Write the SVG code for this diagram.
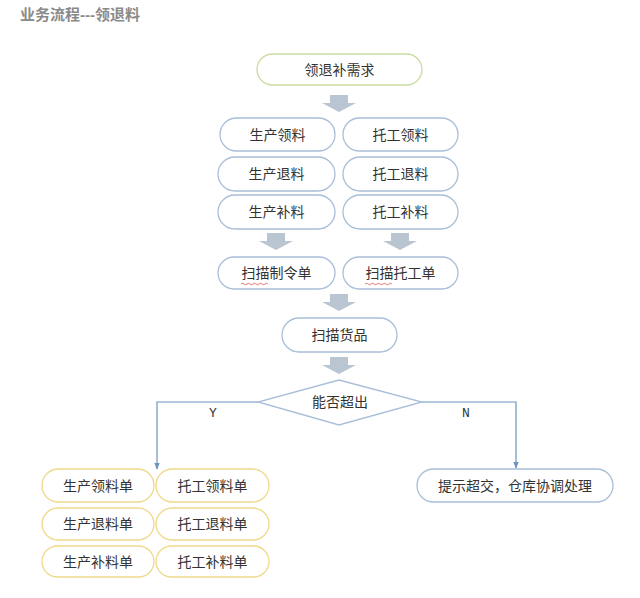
<svg xmlns="http://www.w3.org/2000/svg" width="640" height="598" viewBox="0 0 640 598">
<defs>
<style>
text{font-family:"Liberation Sans","Noto Sans CJK SC",sans-serif;font-size:14px;fill:#333;text-anchor:middle;dominant-baseline:central}
text.title{font-size:15px;font-weight:bold;fill:#8a8a8a;text-anchor:start}
.g{fill:#fff;stroke:#c9dca0;stroke-width:1.3}
.b{fill:#fff;stroke:#a9bfd9;stroke-width:1.3}
.y{fill:#fff;stroke:#efd98a;stroke-width:1.3}
.blk{fill:#b9c5d1}
.ln{fill:none;stroke:#6d93c2;stroke-width:1.2}
text.lbl{font-family:"Liberation Mono",monospace;font-size:13px}
.sq{fill:none;stroke:#e05050;stroke-width:0.8}
</style>
<marker id="ah" viewBox="0 0 10 10" refX="9" refY="5" markerWidth="7" markerHeight="7" orient="auto" markerUnits="userSpaceOnUse">
<path d="M0,1 L10,5 L0,9 z" fill="#6d93c2"/>
</marker>
<path id="bar" d="M-9,0 H9 V8 H17 L0,17 L-17,8 H-9 Z"/>
</defs>
<rect width="640" height="598" fill="#fff"/>
<text class="title" x="20" y="14">业务流程---领退料</text>

<g id="connectors">
<use href="#bar" class="blk" x="339" y="95"/>
<use href="#bar" class="blk" x="276" y="233"/>
<use href="#bar" class="blk" x="400" y="233"/>
<use href="#bar" class="blk" x="339" y="294"/>
<use href="#bar" class="blk" x="339" y="357"/>
<path class="ln" d="M258,402 H157 V469" marker-end="url(#ah)"/>
<path class="ln" d="M422,402 H516 V468" marker-end="url(#ah)"/>
<text class="lbl" x="213" y="413">Y</text>
<text class="lbl" x="466" y="413">N</text>
</g>

<g id="n-need"><rect class="g" x="257" y="54" width="165" height="31" rx="15.5"/><text x="339.5" y="70">领退补需求</text></g>

<g id="n-scll"><rect class="b" x="220" y="118" width="115" height="33" rx="16.5"/><text x="277.5" y="135">生产领料</text></g>
<g id="n-tgll"><rect class="b" x="343" y="118" width="115" height="33" rx="16.5"/><text x="400.5" y="135">托工领料</text></g>
<g id="n-sctl"><rect class="b" x="218" y="157" width="117" height="34" rx="17"/><text x="276.5" y="174">生产退料</text></g>
<g id="n-tgtl"><rect class="b" x="343" y="157" width="115" height="34" rx="17"/><text x="400.5" y="174">托工退料</text></g>
<g id="n-scbl"><rect class="b" x="218" y="195" width="117" height="34" rx="17"/><text x="276.5" y="212">生产补料</text></g>
<g id="n-tgbl"><rect class="b" x="343" y="195" width="115" height="34" rx="17"/><text x="400.5" y="212">托工补料</text></g>

<g id="n-smzld"><rect class="b" x="218" y="257" width="117" height="32" rx="16"/><text x="276.5" y="273">扫描制令单</text><path class="sq" d="M241,284 q1.5,-1.5 3,0 t3,0 t3,0 t3,0 t3,0 t3,0 t3,0 t3,0 t3,0"/></g>
<g id="n-smtgd"><rect class="b" x="343" y="257" width="115" height="32" rx="16"/><text x="400.5" y="273">扫描托工单</text><path class="sq" d="M365,284 q1.5,-1.5 3,0 t3,0 t3,0 t3,0 t3,0 t3,0 t3,0 t3,0 t3,0"/></g>

<g id="n-smhp"><rect class="b" x="282" y="318" width="115" height="34" rx="17"/><text x="339.5" y="335">扫描货品</text></g>

<g id="n-decide"><polygon class="b" points="339,380 422,402 339,425 258,402"/><text x="340" y="402">能否超出</text></g>

<g id="n-scllD"><rect class="y" x="42" y="469" width="112" height="33" rx="16.5"/><text x="98" y="486">生产领料单</text></g>
<g id="n-tgllD"><rect class="y" x="156" y="469" width="113" height="33" rx="16.5"/><text x="212.5" y="486">托工领料单</text></g>
<g id="n-sctlD"><rect class="y" x="42" y="508" width="112" height="32" rx="16"/><text x="98" y="524">生产退料单</text></g>
<g id="n-tgtlD"><rect class="y" x="156" y="508" width="113" height="32" rx="16"/><text x="212.5" y="524">托工退料单</text></g>
<g id="n-scblD"><rect class="y" x="42" y="546" width="112" height="31" rx="15.5"/><text x="98" y="562">生产补料单</text></g>
<g id="n-tgblD"><rect class="y" x="156" y="546" width="113" height="31" rx="15.5"/><text x="212.5" y="562">托工补料单</text></g>

<g id="n-warn"><rect class="b" x="417" y="469" width="196" height="33" rx="16.5"/><text x="515" y="486">提示超交，仓库协调处理</text></g>
</svg>
